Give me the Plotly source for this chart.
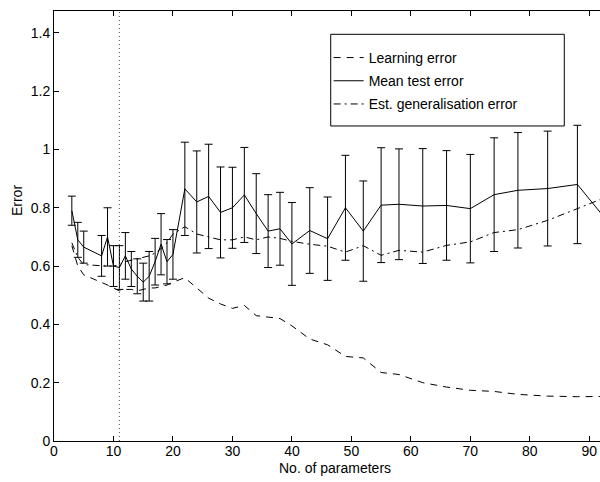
import plotly.graph_objects as go

# ---- data ----
n_params = [3, 4, 5, 8, 9, 10, 11, 12, 13, 14, 15, 16, 17, 18, 19, 20,
            22, 24, 26, 28, 30, 32, 34, 36, 38, 40, 43, 46, 49, 52, 55, 58,
            62, 66, 70, 74, 78, 83, 88, 93]

learning_error = [0.67, 0.60, 0.57, 0.545, 0.535, 0.525, 0.515, 0.52, 0.52, 0.515,
                  0.52, 0.525, 0.525, 0.53, 0.535, 0.545, 0.56, 0.525, 0.49, 0.47,
                  0.455, 0.465, 0.43, 0.425, 0.42, 0.395, 0.35, 0.33, 0.29, 0.285,
                  0.235, 0.228, 0.20, 0.185, 0.174, 0.17, 0.16, 0.154, 0.152, 0.153]

mean_test_error = [0.79, 0.69, 0.665, 0.635, 0.70, 0.60, 0.595, 0.635, 0.59, 0.565,
                   0.545, 0.565, 0.615, 0.675, 0.615, 0.64, 0.865, 0.82, 0.839, 0.784,
                   0.80, 0.844, 0.78, 0.72, 0.728, 0.676, 0.722, 0.694, 0.80, 0.72,
                   0.809, 0.812, 0.806, 0.808, 0.797, 0.845, 0.86, 0.866, 0.88, 0.755]

test_error_std = [0.05, 0.06, 0.055, 0.07, 0.10, 0.07, 0.075, 0.08, 0.06, 0.06,
                  0.065, 0.085, 0.08, 0.105, 0.076, 0.085, 0.16, 0.175, 0.179, 0.156,
                  0.139, 0.163, 0.137, 0.125, 0.125, 0.142, 0.147, 0.143, 0.18, 0.172,
                  0.197, 0.19, 0.197, 0.188, 0.186, 0.195, 0.198, 0.197, 0.203, 0.20]

est_gen_error = [0.68, 0.63, 0.605, 0.60, 0.60, 0.60, 0.605, 0.615, 0.62, 0.625,
                 0.63, 0.635, 0.645, 0.66, 0.68, 0.71, 0.735, 0.71, 0.70, 0.69,
                 0.69, 0.70, 0.69, 0.70, 0.695, 0.685, 0.675, 0.668, 0.648, 0.67,
                 0.637, 0.654, 0.648, 0.671, 0.683, 0.715, 0.725, 0.757, 0.797, 0.838]

chosen_n = 11

x_ticks = [0, 10, 20, 30, 40, 50, 60, 70, 80, 90]
y_ticks = [0, 0.2, 0.4, 0.6, 0.8, 1.0, 1.2, 1.4]
y_tick_labels = ["0", "0.2", "0.4", "0.6", "0.8", "1", "1.2", "1.4"]

FONT = "Liberation Sans, Arial, Helvetica, sans-serif"

fig = go.Figure()

fig.add_trace(go.Scatter(
    x=n_params, y=learning_error, mode="lines", name="Learning error",
    legendgroup="a",
    line=dict(color="black", width=1, dash="7px,6px"),
))
fig.add_trace(go.Scatter(
    x=n_params, y=mean_test_error, mode="lines", name="Mean test error",
    legendgroup="b",
    line=dict(color="black", width=1),
    error_y=dict(type="data", array=test_error_std, visible=True,
                 color="black", thickness=1, width=4),
))
fig.add_trace(go.Scatter(
    x=n_params, y=est_gen_error, mode="lines", name="Est. generalisation error",
    legendgroup="c",
    line=dict(color="black", width=1, dash="7px,4px,2px,4px"),
))

# dotted vertical marker at the chosen model size
fig.add_trace(go.Scatter(
    x=[chosen_n, chosen_n], y=[0, 1.475], mode="lines", showlegend=False,
    line=dict(color="#555555", width=1, dash="1px,3px"), hoverinfo="skip",
))

# legend frame
fig.add_shape(type="rect", xref="paper", yref="paper",
              x0=0.5068, x1=0.9346, y0=0.7326, y1=0.9458,
              line=dict(color="black", width=1), fillcolor="white", layer="below")

fig.add_annotation(text="Error", xref="paper", yref="paper",
                   x=-0.068, y=0.56, xanchor="center", yanchor="middle",
                   textangle=-90, showarrow=False,
                   font=dict(family=FONT, size=14, color="black"))
fig.add_annotation(text="No. of parameters", xref="paper", yref="paper",
                   x=0.5147, y=-0.062, xanchor="center", yanchor="middle",
                   showarrow=False,
                   font=dict(family=FONT, size=14, color="black"))

fig.update_layout(
    width=600, height=482,
    margin=dict(l=54, r=0, t=11, b=41),
    paper_bgcolor="white", plot_bgcolor="white",
    font=dict(family=FONT, size=14, color="black"),
    showlegend=True,
    legend=dict(x=0.503, y=0.928, xanchor="left", yanchor="top",
                bgcolor="rgba(0,0,0,0)", borderwidth=0,
                tracegroupgap=2, traceorder="grouped",
                font=dict(family=FONT, size=14, color="black")),
    xaxis=dict(range=[0, 91.8], tickvals=x_ticks, ticks="inside", ticklen=5,
               tickcolor="black", showline=True, linecolor="black", linewidth=1,
               mirror="ticks", showgrid=False, zeroline=False,
               ticklabelstandoff=-3,
               tickfont=dict(family=FONT, size=14, color="black")),
    yaxis=dict(range=[0, 1.475], tickvals=y_ticks, ticktext=y_tick_labels,
               ticks="inside", ticklen=5, tickcolor="black", showline=True,
               linecolor="black", linewidth=1, mirror=False, showgrid=False,
               zeroline=False, tickfont=dict(family=FONT, size=14, color="black")),
)

fig.write_html("out.html",
               config={"displayModeBar": False},
               post_script="document.body.style.margin='0px';document.body.style.overflow='hidden';")
